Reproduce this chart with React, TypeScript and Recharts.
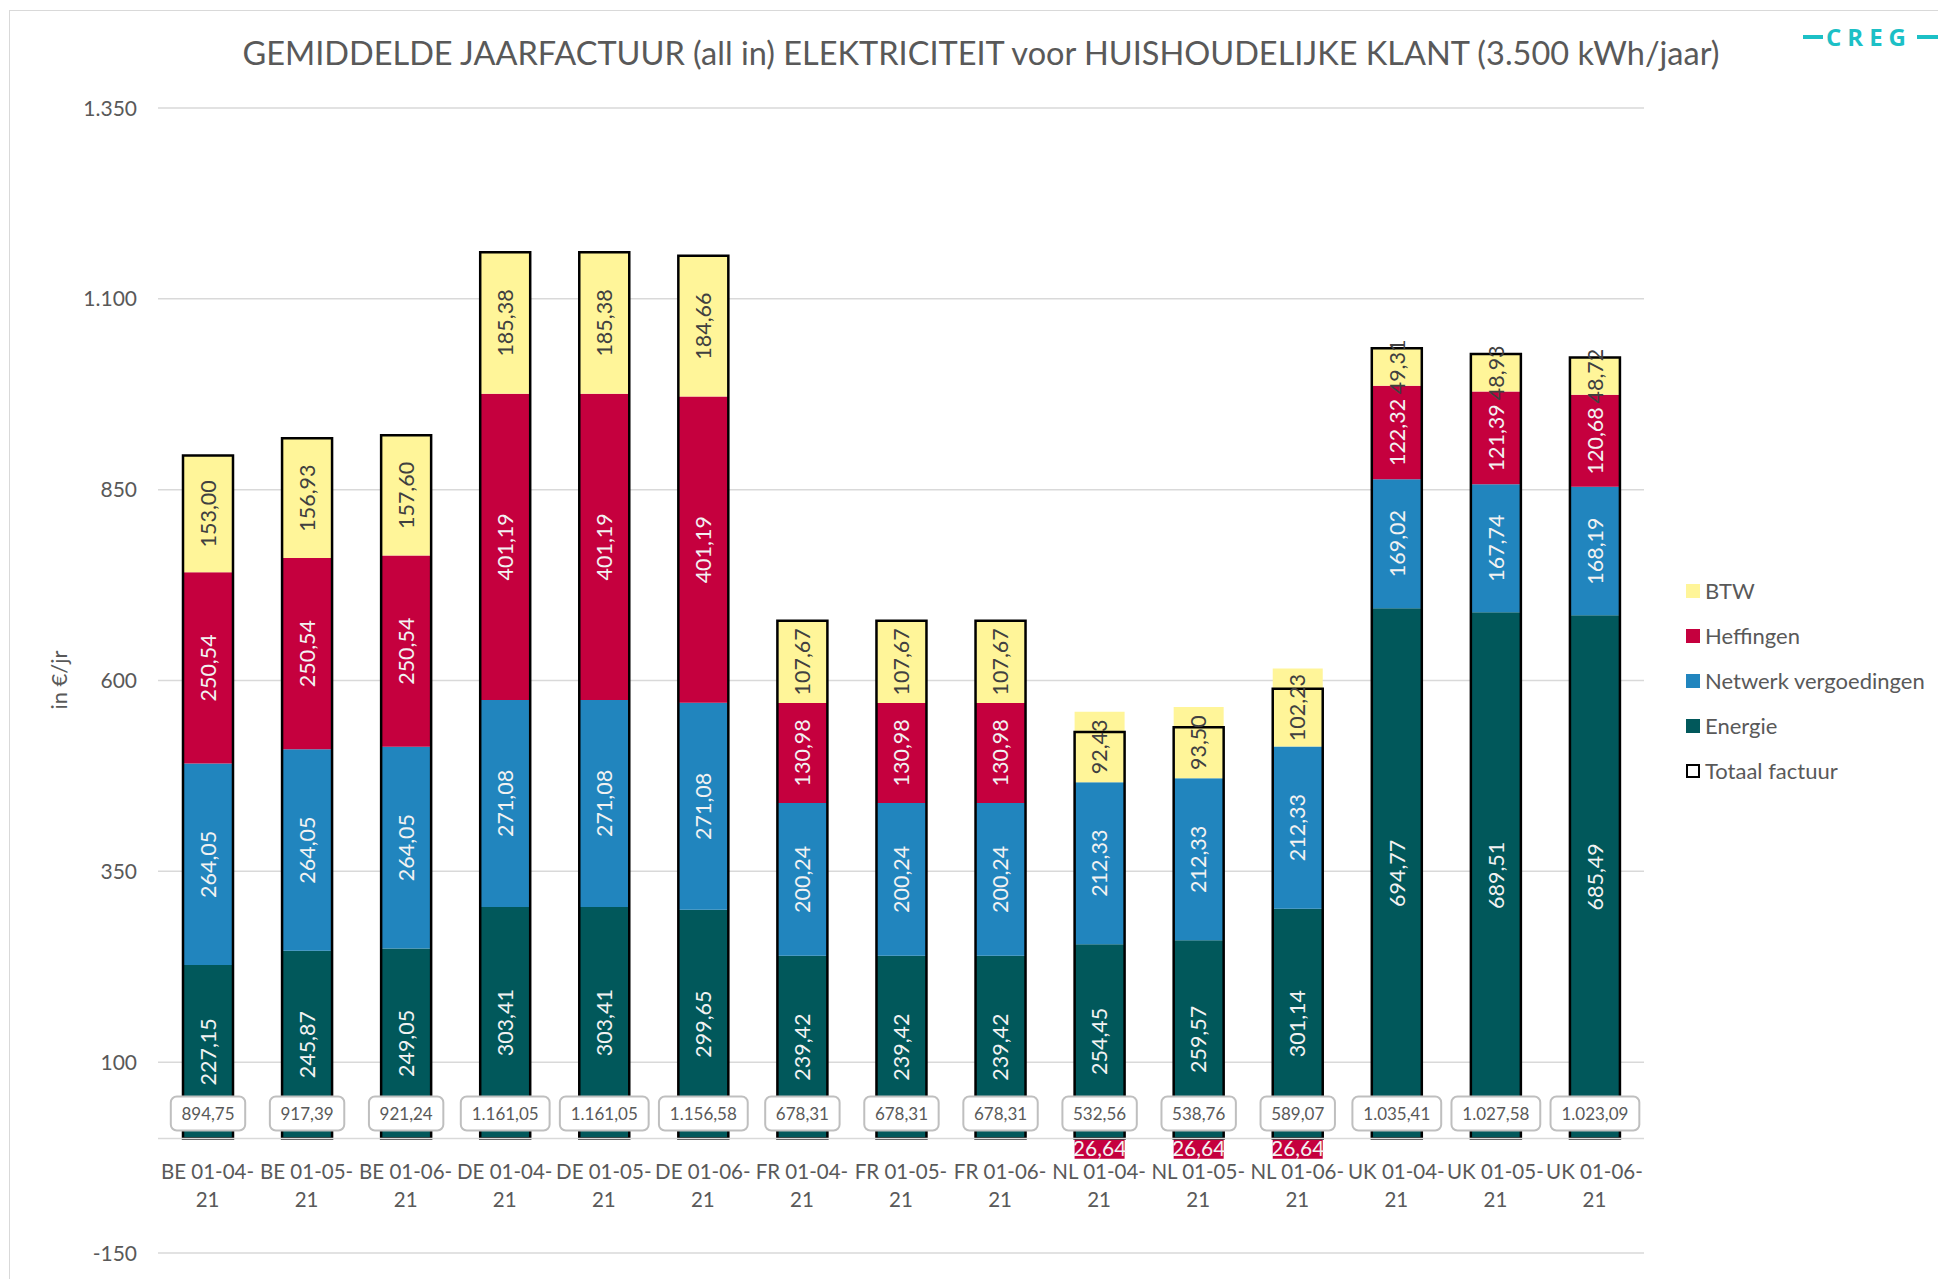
import React from 'react';
import { BarChart, Bar, XAxis, YAxis, CartesianGrid, ReferenceLine, LabelList } from 'recharts';

const CATEGORIES = [
  'BE 01-04-21', 'BE 01-05-21', 'BE 01-06-21',
  'DE 01-04-21', 'DE 01-05-21', 'DE 01-06-21',
  'FR 01-04-21', 'FR 01-05-21', 'FR 01-06-21',
  'NL 01-04-21', 'NL 01-05-21', 'NL 01-06-21',
  'UK 01-04-21', 'UK 01-05-21', 'UK 01-06-21',
];
const ENERGIE = [227.15, 245.87, 249.05, 303.41, 303.41, 299.65, 239.42, 239.42, 239.42, 254.45, 259.57, 301.14, 694.77, 689.51, 685.49];
const NETWERK = [264.05, 264.05, 264.05, 271.08, 271.08, 271.08, 200.24, 200.24, 200.24, 212.33, 212.33, 212.33, 169.02, 167.74, 168.19];
const HEFFINGEN = [250.54, 250.54, 250.54, 401.19, 401.19, 401.19, 130.98, 130.98, 130.98, -26.64, -26.64, -26.64, 122.32, 121.39, 120.68];
const BTW = [153.0, 156.93, 157.6, 185.38, 185.38, 184.66, 107.67, 107.67, 107.67, 92.43, 93.5, 102.23, 49.31, 48.93, 48.72];
const TOTAAL = [894.75, 917.39, 921.24, 1161.05, 1161.05, 1156.58, 678.31, 678.31, 678.31, 532.56, 538.76, 589.07, 1035.41, 1027.58, 1023.09];
const Y_TICKS = [-150, 100, 350, 600, 850, 1100, 1350];

const COLORS = {
  energie: '#01585B',
  netwerk: '#2185BE',
  heffingen: '#C5003E',
  btw: '#FFF599',
};
const TEXT = '#595959';
const FONT = 'Lato, "Open Sans", sans-serif';

const W = 1938;
const H = 1279;
const Y_AXIS_W = 60;
const X_AXIS_H = 26;
// plot area spans x 158..1644, y 108..1253
const MARGIN = { top: 108, right: 294, bottom: 0, left: 158 - Y_AXIS_W };
const PLOT_H = H - MARGIN.top - MARGIN.bottom - X_AXIS_H;
const Y_MIN = -150;
const Y_MAX = 1350;
const ZERO_FROM_BOTTOM = (PLOT_H * (0 - Y_MIN)) / (Y_MAX - Y_MIN);

const data = CATEGORIES.map((name, i) => ({
  name,
  energie: ENERGIE[i],
  netwerk: NETWERK[i],
  heffingen: HEFFINGEN[i],
  btw: BTW[i],
  totaal: TOTAAL[i],
}));

const LEGEND = [
  { label: 'BTW', color: COLORS.btw },
  { label: 'Heffingen', color: COLORS.heffingen },
  { label: 'Netwerk vergoedingen', color: COLORS.netwerk },
  { label: 'Energie', color: COLORS.energie },
  { label: 'Totaal factuur', color: 'outline' },
];

// Belgian number format: 1.161,05
const fmt = (v: number, dec = 2) => {
  const [int, frac] = Math.abs(v).toFixed(dec).split('.');
  const head = int.replace(/\B(?=(\d{3})+(?!\d))/g, '.');
  return (v < 0 ? '-' : '') + head + (frac ? ',' + frac : '');
};

const segmentLabel = (fill: string) => (props: any) => {
  const { x, y, width, height, value } = props;
  if (value == null || value === 0) return null;
  const cx = x + width / 2;
  const cy = y + height / 2;
  if (value < 0) {
    return (
      <text x={cx} y={cy} dy="0.36em" textAnchor="middle" fill={fill} fontSize={21} fontFamily={FONT}>
        {fmt(-value)}
      </text>
    );
  }
  return (
    <text
      x={cx}
      y={cy}
      dy="0.36em"
      textAnchor="middle"
      transform={`rotate(-90 ${cx} ${cy})`}
      fill={fill}
      fontSize={21.5}
      fontFamily={FONT}
    >
      {fmt(value)}
    </text>
  );
};

const totalLabel = (props: any) => {
  const { x, y, width, height, value } = props;
  const text = fmt(value);
  const bottom = y + height;
  const cx = x + width / 2;
  const cy = bottom - 25;
  let tw = 0;
  for (const ch of text) tw += ch === '.' || ch === ',' ? 4.4 : 10;
  const bw = tw + 20;
  return (
    <g>
      <rect x={cx - bw / 2} y={cy - 17} width={bw} height={34} rx={6} ry={6} fill="#fff" stroke="#BFBFBF" strokeWidth={2} />
      <text x={cx} y={cy} dy="0.36em" textAnchor="middle" fill={TEXT} fontSize={17} fontFamily={FONT}>
        {text}
      </text>
    </g>
  );
};

const CategoryTick = (props: any) => {
  const { x, y, payload } = props;
  const label: string = payload.value;
  const zeroY = y - ZERO_FROM_BOTTOM;
  return (
    <g>
      <text x={x} y={zeroY + 33} dy="0.36em" textAnchor="middle" fill={TEXT} fontSize={20.5} fontFamily={FONT}>
        {label.slice(0, -2)}
      </text>
      <text x={x} y={zeroY + 61} dy="0.36em" textAnchor="middle" fill={TEXT} fontSize={20.5} fontFamily={FONT}>
        {label.slice(-2)}
      </text>
    </g>
  );
};

const ValueTick = (props: any) => {
  const { x, y, payload } = props;
  return (
    <text x={x - 21} y={y} dy="0.36em" textAnchor="end" fill={TEXT} fontSize={21} fontFamily={FONT}>
      {fmt(payload.value, 0)}
    </text>
  );
};

export default function App() {
  return (
    <div style={{ position: 'absolute', left: 0, top: 0, width: W, height: H, overflow: 'hidden', background: '#fff', fontFamily: FONT }}>
      <div style={{ position: 'absolute', left: 9, top: 10, width: 2200, height: 2200, border: '1px solid #D9D9D9' }} />

      <div style={{ position: 'absolute', left: 0, width: 1962, top: 33, lineHeight: '40px', textAlign: 'center', fontSize: 32.5, color: TEXT }}>
        GEMIDDELDE JAARFACTUUR (all in) ELEKTRICITEIT voor HUISHOUDELIJKE KLANT (3.500 kWh/jaar)
      </div>

      <div style={{ position: 'absolute', left: 1803, top: 35, width: 20, height: 4, background: '#1CC0C6' }} />
      <div style={{ position: 'absolute', left: 1826, top: 22, lineHeight: '30px', fontSize: 24, fontWeight: 700, letterSpacing: 6, color: '#1CC0C6', fontFamily: '"Open Sans", Lato, sans-serif' }}>
        CREG
      </div>
      <div style={{ position: 'absolute', left: 1917, top: 35, width: 30, height: 4, background: '#1CC0C6' }} />

      <div
        style={{
          position: 'absolute',
          left: 58,
          top: 680,
          transform: 'translate(-50%, -50%) rotate(-90deg)',
          fontSize: 22,
          color: TEXT,
          whiteSpace: 'nowrap',
        }}
      >
        in €/jr
      </div>

      <div style={{ position: 'absolute', left: 1686, top: 568 }}>
        {LEGEND.map((item) => (
          <div key={item.label} style={{ display: 'flex', alignItems: 'center', height: 45 }}>
            <div
              style={{
                width: item.color === 'outline' ? 10 : 14,
                height: item.color === 'outline' ? 10 : 14,
                background: item.color === 'outline' ? '#fff' : item.color,
                border: item.color === 'outline' ? '2px solid #000' : 'none',
                marginRight: 5,
              }}
            />
            <span style={{ fontSize: 22, color: TEXT, whiteSpace: 'nowrap' }}>{item.label}</span>
          </div>
        ))}
      </div>

      <div style={{ position: 'absolute', left: 0, top: 0 }}>
        <BarChart width={W} height={H} data={data} margin={MARGIN} stackOffset="sign" barSize={50} barGap={-50}>
          <CartesianGrid vertical={false} stroke="#D9D9D9" strokeWidth={1.5} />
          <XAxis
            dataKey="name"
            height={X_AXIS_H}
            tickSize={0}
            tickMargin={0}
            axisLine={false}
            tickLine={false}
            interval={0}
            tick={<CategoryTick />}
          />
          <YAxis
            width={Y_AXIS_W}
            domain={[Y_MIN, Y_MAX]}
            ticks={Y_TICKS}
            allowDataOverflow
            tickSize={0}
            tickMargin={0}
            axisLine={false}
            tickLine={false}
            tick={<ValueTick />}
          />
          <ReferenceLine y={0} stroke="#D9D9D9" strokeWidth={1.5} />
          <Bar dataKey="energie" stackId="a" fill={COLORS.energie} isAnimationActive={false}>
            <LabelList dataKey="energie" content={segmentLabel('#F2F2F2')} />
          </Bar>
          <Bar dataKey="netwerk" stackId="a" fill={COLORS.netwerk} isAnimationActive={false}>
            <LabelList dataKey="netwerk" content={segmentLabel('#F2F2F2')} />
          </Bar>
          <Bar dataKey="heffingen" stackId="a" fill={COLORS.heffingen} isAnimationActive={false}>
            <LabelList dataKey="heffingen" content={segmentLabel('#F2F2F2')} />
          </Bar>
          <Bar dataKey="btw" stackId="a" fill={COLORS.btw} isAnimationActive={false}>
            <LabelList dataKey="btw" content={segmentLabel('#404040')} />
          </Bar>
          <Bar dataKey="totaal" stackId="t" fill="none" stroke="#000" strokeWidth={2.5} isAnimationActive={false}>
            <LabelList dataKey="totaal" content={totalLabel} />
          </Bar>
        </BarChart>
      </div>
    </div>
  );
}
